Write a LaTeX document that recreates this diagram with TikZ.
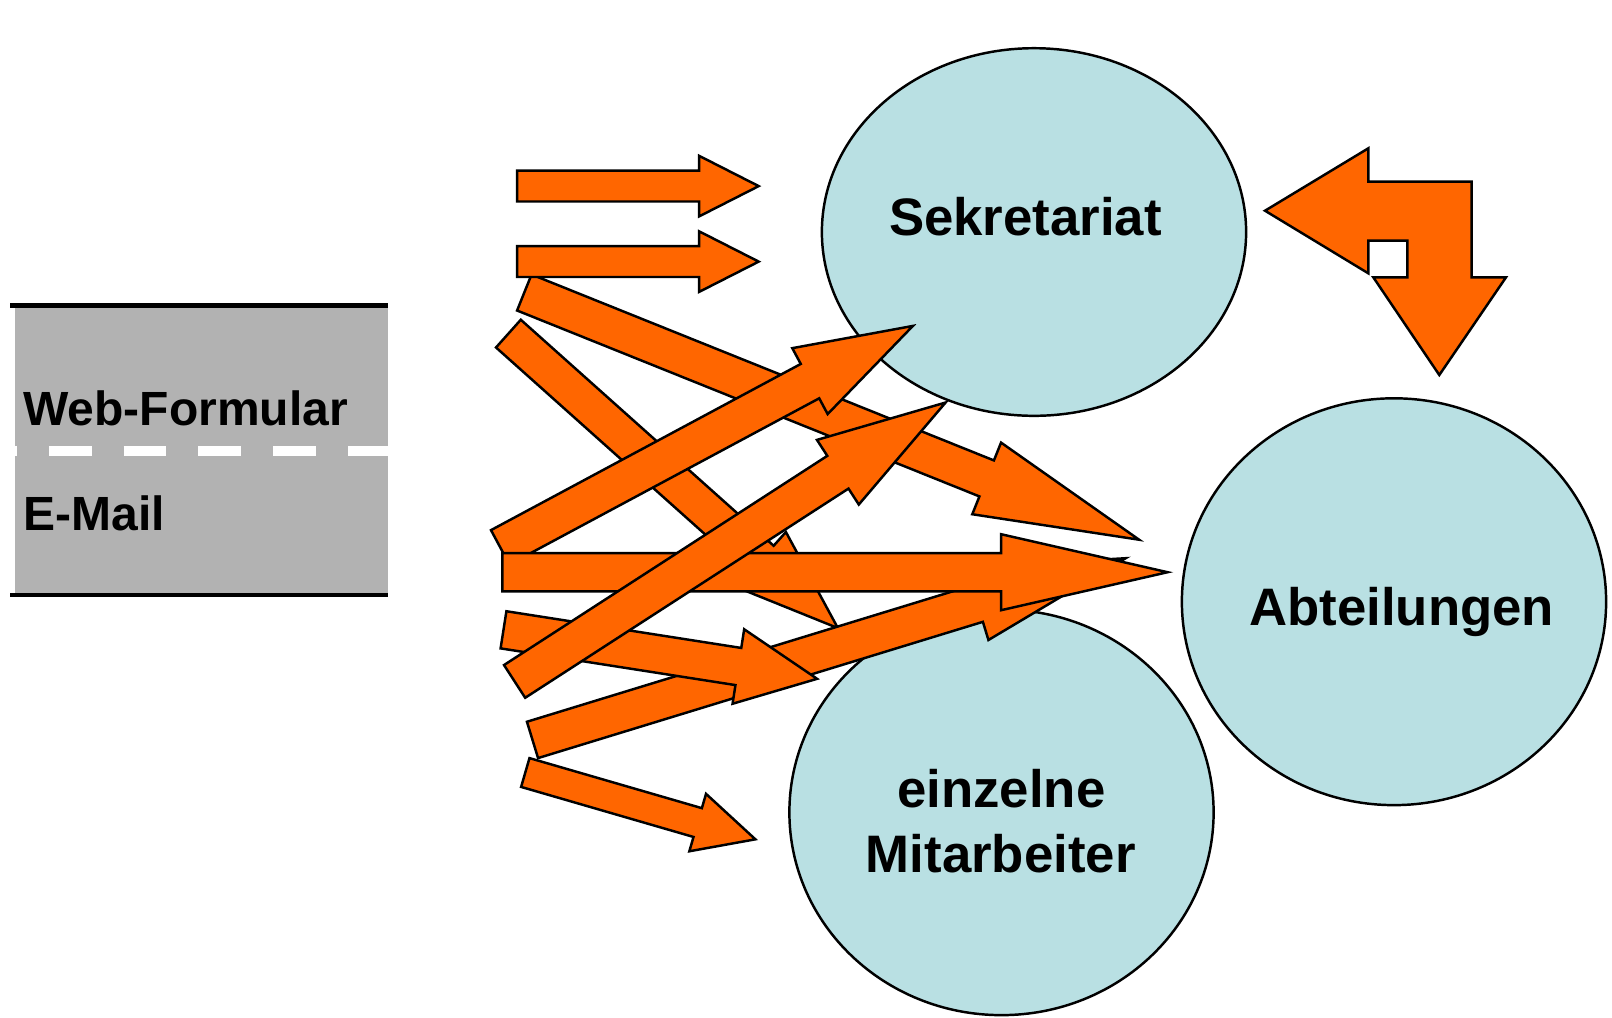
\documentclass[tikz,border=0pt]{standalone}
\usepackage{fontspec}
\setmainfont{Liberation Sans}
\usetikzlibrary{calc}
\usetikzlibrary{shapes.geometric}

\definecolor{floworange}{HTML}{FF6600}
\definecolor{bubblefill}{HTML}{B9E0E3}
\definecolor{boxgray}{HTML}{B2B2B2}

\tikzset{
  bubble/.style={ellipse, draw=black, line width=0.7pt, fill=bubblefill, inner sep=0pt, outer sep=0pt},
  flowarrow/.style={draw=black, line width=0.7pt, fill=floworange, line join=miter},
  biglabel/.style={font=\bfseries\fontsize{15}{18}\selectfont, inner sep=0pt, anchor=base},
  boxlabel/.style={font=\bfseries\fontsize{13.65}{16}\selectfont, inner sep=0pt, anchor=base west},
  rule/.style={line width=1.4pt}
}

\newcommand{\blockarrow}[5]{%
  \coordinate (flowbase) at ($(#2)!#5*0.01cm!(#1)$);
  \draw[flowarrow] ($(#1)!#3*0.01cm!90:(#2)$) -- ($(flowbase)!#3*0.01cm!90:(#2)$)
    -- ($(flowbase)!#4*0.01cm!90:(#2)$) -- (#2)
    -- ($(flowbase)!#4*0.01cm!-90:(#2)$) -- ($(flowbase)!#3*0.01cm!-90:(#2)$)
    -- ($(#1)!#3*0.01cm!-90:(#2)$) -- cycle;
}

\begin{document}
\begin{tikzpicture}[x=0.01cm,y=-0.01cm]
  \useasboundingbox (0,0) rectangle (1612,1017);

  \fill[boxgray] (15,308) rectangle (388,593);
  \draw[rule] (10,305.8) -- (388,305.8);
  \draw[rule] (10,595) -- (388,595);
  \draw[white, line width=2.8pt, dash pattern=on 12.15pt off 9.13pt, dash phase=11.67pt] (15,450.7) -- (388,450.7);
  \node[boxlabel] (web) at (22.7,425) {Web-Formular};
  \node[boxlabel] (mail) at (23,530) {E-Mail};

  \node[bubble, minimum width=4.24cm, minimum height=3.674cm] (sek) at (1034,232) {};
  \node[bubble, minimum width=4.24cm, minimum height=4.066cm] (abt) at (1394,601.7) {};
  \node[bubble, minimum width=4.24cm, minimum height=4.054cm] (mit) at (1001.5,812.3) {};
  \node[biglabel] (sektext) at (1025.5,235) {Sekretariat};
  \node[biglabel] (abttext) at (1401.7,625) {Abteilungen};
  \node[biglabel] (einz) at (1001.3,807) {einzelne};
  \node[biglabel] (mitarb) at (1000.8,872) {Mitarbeiter};

  \coordinate (t1) at (517.1,186.1);  \coordinate (h1) at (758.7,186.1);
  \coordinate (t2) at (517.1,261.6);  \coordinate (h2) at (758.7,261.6);
  \coordinate (t3) at (524.3,292.5);  \coordinate (h3) at (1139.1,539.7);
  \coordinate (t4) at (508.4,333.6);  \coordinate (h4) at (837.9,628.1);
  \coordinate (t5) at (500.2,547.3);  \coordinate (h5) at (912.9,325.9);
  \coordinate (t6) at (514.6,681.4);  \coordinate (h6) at (945.6,402.5);
  \coordinate (t7) at (502.3,572.2);  \coordinate (h7) at (1167.6,572.2);
  \coordinate (t8) at (532.5,739.9);  \coordinate (h8) at (1125.7,558.2);
  \coordinate (t9) at (503.5,629.8);  \coordinate (h9) at (817.1,678.8);
  \coordinate (t10) at (525.3,772.5); \coordinate (h10) at (755.4,839.3);

  \blockarrow{t3}{h3}{19.4}{38.6}{164.3}
  \blockarrow{t4}{h4}{18.6}{37}{102.8}
  \blockarrow{t8}{h8}{19}{38}{155.2}
  \blockarrow{t5}{h5}{19.5}{37.4}{116.8}
  \blockarrow{t7}{h7}{19.1}{38}{166.5}
  \blockarrow{t9}{h9}{18.8}{37.7}{79.7}
  \blockarrow{t6}{h6}{19.5}{38.5}{128.3}
  \blockarrow{t1}{h1}{15.4}{30.3}{59.6}
  \blockarrow{t2}{h2}{15.4}{30.3}{59.6}
  \blockarrow{t10}{h10}{15}{29.9}{60.1}

  \draw[flowarrow] (1265,210.7) -- (1368.3,148.3) -- (1368.3,181.7) -- (1471.7,181.7)
    -- (1471.7,277.3) -- (1506,277.3) -- (1439.3,375) -- (1373.3,277.3)
    -- (1407.3,277.3) -- (1407.3,240.7) -- (1368.3,240.7) -- (1368.3,273.3) -- cycle;
\end{tikzpicture}
\end{document}
